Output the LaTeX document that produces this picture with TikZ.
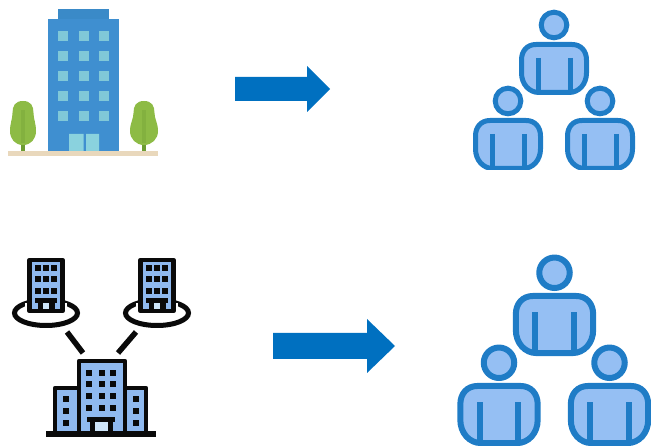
\documentclass[tikz,border=0pt]{standalone}
\definecolor{towerblue}{HTML}{3F8FD0}
\definecolor{capblue}{HTML}{3A8AC8}
\definecolor{winblue}{HTML}{80C8D8}
\definecolor{doorblue}{HTML}{8AD2DE}
\definecolor{groundc}{HTML}{E9D8BC}
\definecolor{treeg}{HTML}{8DBB45}
\definecolor{trunkg}{HTML}{6C9C32}
\definecolor{personfill}{HTML}{95BFF3}
\definecolor{personline}{HTML}{1F7CC6}
\definecolor{arrowblue}{HTML}{0070C0}
\definecolor{bldfill}{HTML}{8FB9EF}
\definecolor{doorlight}{HTML}{CFE6FA}
\definecolor{inkc}{HTML}{0A0A0A}
\tikzset{
  personshape/.style={draw=personline,fill=personfill,line width=#1},
  inkbox/.style={draw=inkc,fill=bldfill,line width=4.5pt,line join=round},
  inkdot/.style={fill=inkc},
  pics/person/.style={code={
    \draw[personshape=#1] (0,-17) circle (12.8);
    \draw[personshape=#1] (-18,2.5) -- (18,2.5) .. controls (27,2.5) and (32.5,9) .. (32.5,18)
       -- (32.5,31) .. controls (32.5,42) and (25,50.5) .. (15,50.5) -- (-15,50.5)
       .. controls (-25,50.5) and (-32.5,42) .. (-32.5,31) -- (-32.5,18)
       .. controls (-32.5,9) and (-27,2.5) .. (-18,2.5) -- cycle;
    \draw[personline,line width=#1] (-16,16) -- (-16,50) (16,16) -- (16,50);
  }}
}
\newcommand{\smallbld}[1]{%
  \begin{scope}[shift={(#1,0)}]
    \draw[draw=inkc,line width=5pt] (0,313) ellipse (31.5 and 12.5);
    \fill[white] (-21,303) rectangle (21,318);
    \draw[inkbox] (-16.5,260) rectangle (16.5,311);
    \foreach \yy in {268,279,291} \foreach \xx in {-8,0,8}
      \fill[inkdot] (\xx-2.6,\yy-2.6) rectangle (\xx+2.6,\yy+2.6);
    \fill[inkdot] (-11,298) rectangle (11,303);
    \fill[inkdot] (-8.5,301) rectangle (8.5,312);
    \fill[doorlight] (-3,303) rectangle (3,309);
  \end{scope}}
\begin{document}
\begin{tikzpicture}[x=1pt,y=-1pt]
\useasboundingbox (0,0) rectangle (651,446);
\clip (0,0) rectangle (651,446);
% top building
\fill[groundc] (8,151) rectangle (158,156);
\fill[capblue] (58,9) rectangle (109,19);
\fill[towerblue] (48,19) rectangle (119,151);
\foreach \yy in {36,56,76,96,116} \foreach \xx in {63,84,104}
  \fill[winblue] (\xx-5,\yy-5) rectangle (\xx+5,\yy+5);
\fill[doorblue] (69,134) rectangle (83.5,151) (86,134) rectangle (99,151);
% trees
\begin{scope}
\clip (0,90) rectangle (158,160);
\foreach \xx/\ww in {23/13,144/14}{
  \fill[trunkg] (\xx-2.2,135) rectangle (\xx+2.2,151);
  \fill[treeg] (\xx,101) .. controls (\xx+8,101) and (\xx+10.5,106) .. (\xx+10.5,113)
    .. controls (\xx+10.5,119) and (\xx+\ww,123) .. (\xx+\ww,131)
    .. controls (\xx+\ww,139) and (\xx+8,145) .. (\xx,145)
    .. controls (\xx-8,145) and (\xx-\ww,139) .. (\xx-\ww,131)
    .. controls (\xx-\ww,123) and (\xx-10.5,119) .. (\xx-10.5,113)
    .. controls (\xx-10.5,106) and (\xx-8,101) .. (\xx,101) -- cycle;
  \fill[trunkg,opacity=.3] (\xx-2,110) rectangle (\xx+2,143);
}
\end{scope}
% arrows
\fill[arrowblue] (235,77) -- (307,77) -- (307,66) -- (330,89) -- (307,112) -- (307,101) -- (235,101) -- cycle;
\fill[arrowblue] (273,333) -- (367,333) -- (367,319) -- (395,346) -- (367,373) -- (367,359) -- (273,359) -- cycle;
% top persons
\begin{scope}
  \clip (460,0) rectangle (635,170);
  \pic at (554,42) {person=5pt};
  \pic at (508,118) {person=5pt};
  \pic at (600,118) {person=5pt};
\end{scope}
% bottom persons
\pic[scale=1.19] at (554.5,293) {person=6pt};
\pic[scale=1.19] at (499,383) {person=6pt};
\pic[scale=1.19] at (609.5,383) {person=6pt};
% bottom-left buildings
\smallbld{46}
\smallbld{157}
\draw[inkc,line width=5.5pt] (67,332) -- (83,353);
\draw[inkc,line width=5.5pt] (136,332) -- (118,353);
% main building
\draw[inkbox] (55,388) rectangle (146,434);
\draw[inkbox] (79,361) rectangle (125,434);
\foreach \yy in {373,384,396,408} \foreach \xx in {89,102,113}
  \fill[inkdot] (\xx-3,\yy-3) rectangle (\xx+3,\yy+3);
\foreach \yy in {399,411,423} {
  \fill[inkdot] (66-3,\yy-3) rectangle (66+3,\yy+3);
  \fill[inkdot] (136-3,\yy-3) rectangle (136+3,\yy+3);
}
\fill[inkdot] (87,417) rectangle (115,422);
\fill[inkdot] (90,420) rectangle (113,434);
\fill[doorlight] (95,422) rectangle (107.5,431);
\fill[inkdot] (46,431) rectangle (156,437);
\end{tikzpicture}
\end{document}
